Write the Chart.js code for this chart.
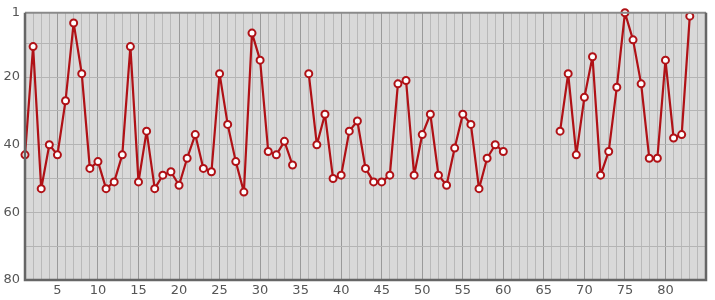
<!DOCTYPE html>
<html>
<head>
<meta charset="utf-8">
<script src="https://cdn.jsdelivr.net/npm/chart.js@4/dist/chart.umd.min.js"></script>
<style>
  html, body { margin: 0; padding: 0; background: #fff; }
  #wrap { width: 715px; height: 300px; }
</style>
</head>
<body>
<div id="wrap"><canvas id="LineChart"></canvas></div>
<script>
// data (null = no value, line breaks there)
const xReiksmes = [];
for (let i = 1; i <= 83; i++) xReiksmes.push(i);

const yReiksmes = [
  43, 11, 53, 40, 43, 27, 4, 19, 47, 45,
  53, 51, 43, 11, 51, 36, 53, 49, 48, 52,
  44, 37, 47, 48, 19, 34, 45, 54, 7, 15,
  42, 43, 39, 46, null, 19, 40, 31, 50, 49,
  36, 33, 47, 51, 51, 49, 22, 21, 49, 37,
  31, 49, 52, 41, 31, 34, 53, 44, 40, 42,
  null, null, null, null, null, null, 36, 19, 43, 26,
  14, 49, 42, 23, 1, 9, 22, 44, 44, 15,
  38, 37, 2
];

const yTikai = [1, 10, 20, 30, 40, 50, 60, 70, 80];
const yZymes = [1, 20, 40, 60, 80];

const linijosSpalva = '#b01116';

const fonas = {
  id: 'fonas',
  beforeDraw(chart) {
    const { ctx, chartArea: a } = chart;
    ctx.save();
    ctx.fillStyle = '#d9d9d9';
    ctx.fillRect(a.left, a.top, a.right - a.left, a.bottom - a.top);
    ctx.restore();
  },
  afterDatasetsDraw(chart) {
    const { ctx, chartArea: a } = chart;
    ctx.save();
    ctx.lineWidth = 2;
    ctx.strokeStyle = '#8a8a8a';
    ctx.beginPath();
    ctx.moveTo(a.left, a.top);
    ctx.lineTo(a.right, a.top);
    ctx.stroke();
    ctx.lineWidth = 2.5;
    ctx.strokeStyle = '#666';
    ctx.beginPath();
    ctx.moveTo(a.left, a.top);
    ctx.lineTo(a.left, a.bottom);
    ctx.lineTo(a.right, a.bottom);
    ctx.lineTo(a.right, a.top);
    ctx.stroke();
    ctx.restore();
  }
};

new Chart(document.getElementById('LineChart'), {
  type: 'line',
  data: {
    datasets: [{
      data: xReiksmes.map((x, i) => ({ x: x, y: yReiksmes[i] })),
      borderColor: linijosSpalva,
      borderWidth: 2.2,
      borderJoinStyle: 'round',
      borderCapStyle: 'round',
      pointRadius: 3.5,
      pointBorderWidth: 2,
      pointBackgroundColor: '#fff',
      pointBorderColor: linijosSpalva,
      spanGaps: false,
      tension: 0,
      clip: false
    }]
  },
  options: {
    responsive: true,
    maintainAspectRatio: false,
    animation: false,
    layout: { padding: { top: 10, right: 9, left: 0, bottom: 0 } },
    plugins: {
      legend: { display: false },
      tooltip: { enabled: false }
    },
    scales: {
      x: {
        type: 'linear',
        min: 1,
        max: 85,
        afterFit(scale) { scale.height = 20; },
        ticks: {
          stepSize: 1,
          autoSkip: false,
          maxRotation: 0,
          padding: 3,
          color: '#555',
          font: { family: 'DejaVu Sans', size: 13 },
          callback: (v) => (v % 5 === 0 && v < 85) ? v : ''
        },
        grid: {
          drawTicks: false,
          color: (c) => c.tick.value % 5 === 0 ? '#9a9a9a' : '#b9b9b9',
          lineWidth: 1
        },
        border: { display: false }
      },
      y: {
        reverse: true,
        min: 1,
        max: 80,
        afterFit(scale) { scale.width = 25; },
        afterBuildTicks(scale) {
          scale.ticks = yTikai.map(v => ({ value: v }));
        },
        ticks: {
          padding: 5,
          color: '#555',
          font: { family: 'DejaVu Sans', size: 13 },
          callback: (v) => yZymes.includes(v) ? v : ''
        },
        grid: {
          drawTicks: false,
          color: '#b4b4b4',
          lineWidth: 1
        },
        border: { display: false }
      }
    }
  },
  plugins: [fonas]
});
</script>
</body>
</html>
